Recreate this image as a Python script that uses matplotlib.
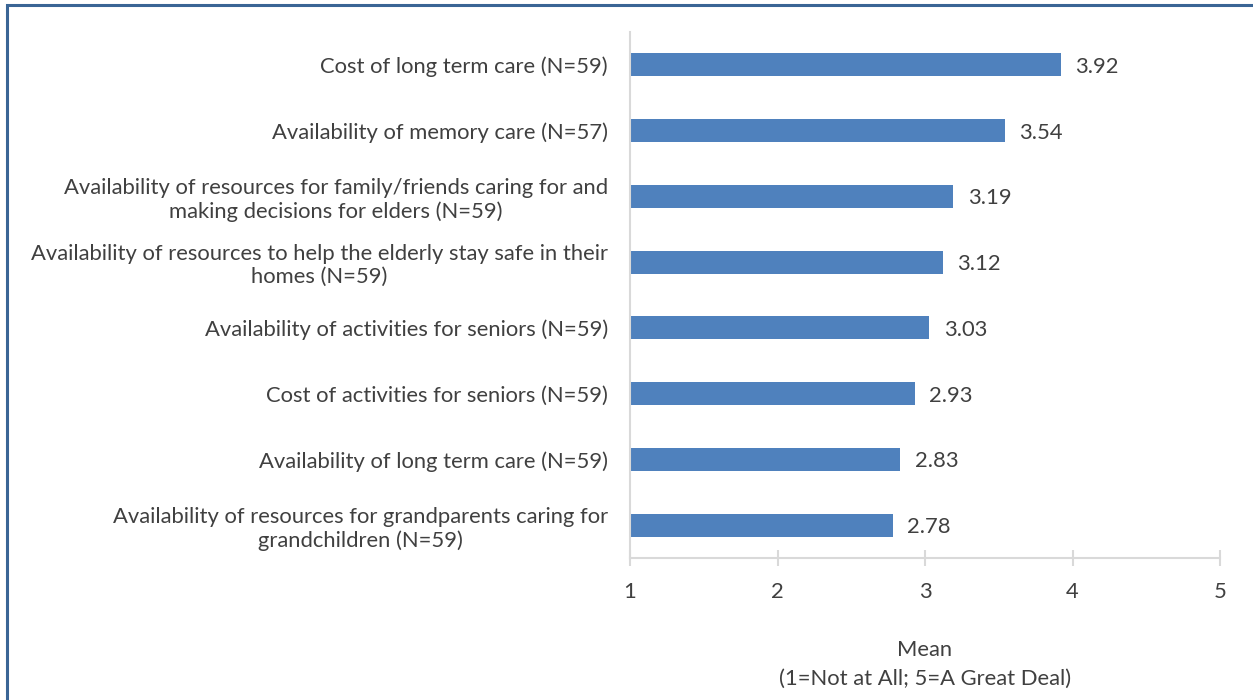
import matplotlib
matplotlib.use('Agg')
import matplotlib.pyplot as plt
from matplotlib.patches import Rectangle

plt.rcParams['font.family'] = ['Lato', 'DejaVu Sans']

### Data, listed top to bottom as in the chart
categories = [
    "Cost of long term care (N=59)",
    "Availability of memory care (N=57)",
    "Availability of resources for family/friends caring for and\nmaking decisions for elders (N=59)",
    "Availability of resources to help the elderly stay safe in their\nhomes (N=59)",
    "Availability of activities for seniors (N=59)",
    "Cost of activities for seniors (N=59)",
    "Availability of long term care (N=59)",
    "Availability of resources for grandparents caring for\ngrandchildren (N=59)",
]
means = [3.92, 3.54, 3.19, 3.12, 3.03, 2.93, 2.83, 2.78]
xTicks = [1, 2, 3, 4, 5]
xLabel = "Mean\n(1=Not at All; 5=A Great Deal)"

textColor = '#404040'
barColor = '#4F81BD'
axisColor = '#D9D9D9'
fontSize = 15.8

fig = plt.figure(figsize=(12.53, 7.0), dpi=100)
ax = fig.add_axes([630/1253, 1 - 558/700, 590/1253, 526/700])

yPos = list(range(len(categories) - 1, -1, -1))
ax.barh(yPos, [m - 1 for m in means], left=1, height=0.35, color=barColor)
for y, m in zip(yPos, means):
    ax.text(m + 0.1, y - 0.03, "%.2f" % m, va='center', ha='left', fontsize=fontSize, color=textColor)

ax.set_xlim(1, 5)
ax.set_ylim(-0.5, len(categories) - 0.5)
ax.set_xticks(xTicks)
ax.set_xticklabels([str(t) for t in xTicks], fontsize=fontSize, color=textColor)
ax.set_yticks(yPos)
ax.set_yticklabels(categories, fontsize=fontSize, color=textColor, multialignment='center', linespacing=1.2)
ax.tick_params(axis='y', length=0, pad=16)
ax.tick_params(axis='x', direction='inout', length=12, width=1.5, color=axisColor, pad=11)

for side in ['top', 'right']:
    ax.spines[side].set_visible(False)
ax.spines['left'].set_color(axisColor)
ax.spines['left'].set_linewidth(1.5)
ax.spines['bottom'].set_color(axisColor)
ax.spines['bottom'].set_linewidth(1.5)

ax.set_xlabel(xLabel, fontsize=fontSize, color=textColor, labelpad=28, linespacing=1.5)

### Dark blue frame around the chart area (left and top edges visible)
fig.patches.append(Rectangle((6.5/1253, -0.1), 1.2, 1.1 - 4.5/700, transform=fig.transFigure,
                             fill=False, edgecolor='#3A6595', linewidth=2.2))

plt.savefig('out.png', dpi=100)
plt.close()
